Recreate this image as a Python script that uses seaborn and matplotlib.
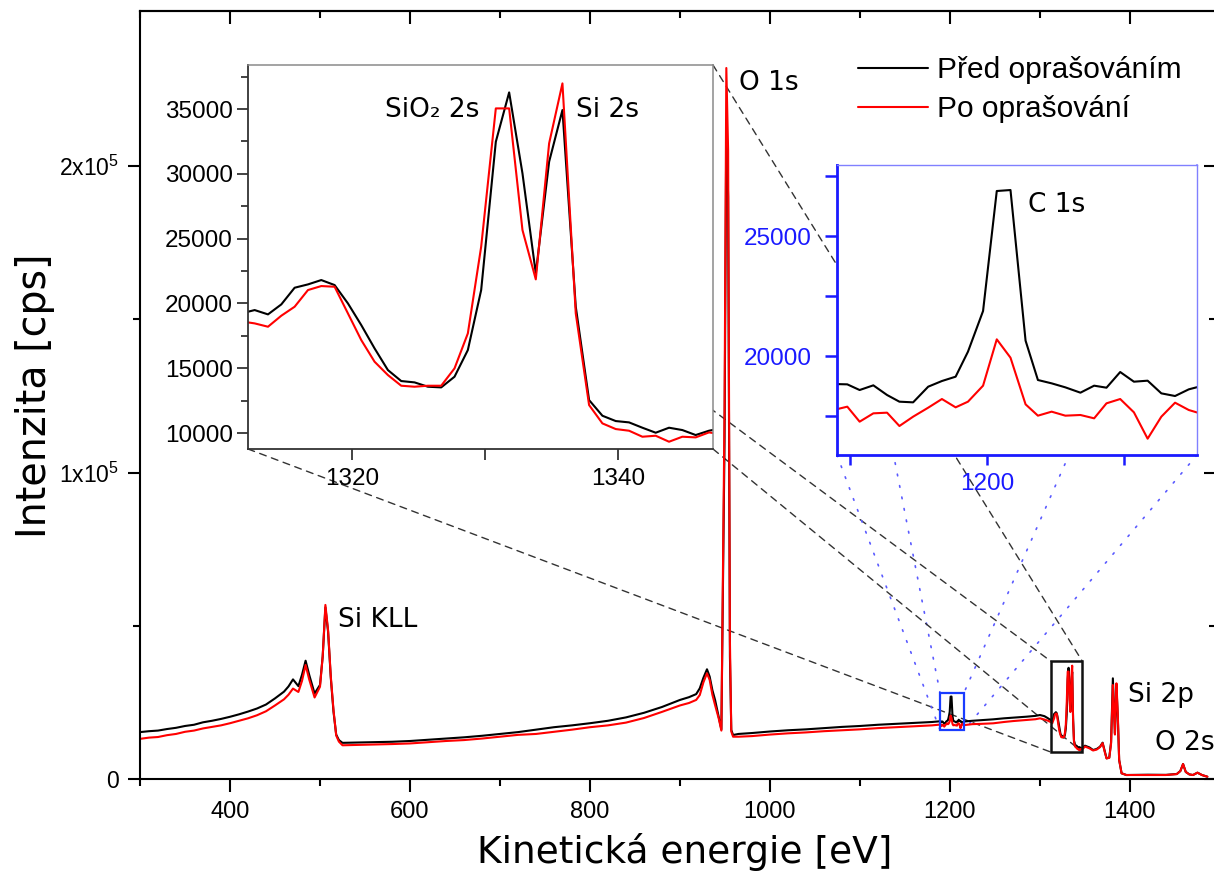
import matplotlib
matplotlib.use("Agg")
import matplotlib.pyplot as plt
import numpy as np
import pandas as pd
import seaborn as sns
from matplotlib.patches import Rectangle, ConnectionPatch
from matplotlib.ticker import FixedLocator

# ---------------- data ----------------
BLACK_LABEL = "Před oprašováním"
RED_LABEL = "Po oprašování"

# survey spectrum, segment by segment (kinetic energy [eV], intensity [cps])
e_kll = [300, 310, 320, 330, 340, 350, 360, 370, 380, 390, 400, 410, 420, 430, 440, 450, 460, 465,
         470, 476, 480, 484, 488, 494, 500, 503, 506, 509, 512, 515, 518, 521]
b_kll = [15300, 15600, 15800, 16300, 16700, 17300, 17700, 18500, 19000, 19600, 20300, 21100, 22000,
         23000, 24300, 26300, 28500, 30200, 32500, 30300, 34000, 38600, 34000, 27900, 30700, 40000,
         56000, 48000, 33000, 22000, 14500, 12700]
r_kll = [13100, 13500, 13700, 14300, 14700, 15400, 15800, 16500, 17000, 17500, 18200, 19000, 19800,
         20800, 22100, 24000, 26000, 27500, 29500, 28400, 32000, 37200, 32500, 26600, 30100, 40000,
         56800, 48500, 33500, 22500, 14200, 12200]

e_mid = [525, 540, 560, 580, 600, 620, 640, 660, 680, 700, 720, 740, 760, 780, 800, 820, 840, 860,
         880, 900, 910, 918, 922, 926, 930, 933, 936, 939, 943, 946]
b_mid = [11800, 11900, 12000, 12150, 12400, 12800, 13200, 13600, 14100, 14700, 15300, 16100, 16900,
         17500, 18200, 19000, 20100, 21600, 23500, 25800, 26700, 27700, 29600, 33000, 35800, 33400,
         29000, 25800, 20300, 16200]
r_mid = [11000, 11100, 11200, 11400, 11600, 12000, 12400, 12700, 13200, 13800, 14400, 14700, 15400,
         16100, 16900, 17500, 18400, 19900, 21900, 24000, 24800, 25800, 27400, 31500, 34500, 32300,
         27500, 24100, 19800, 15800]

e_o1s = [949.5, 951.5, 953.5, 955.5, 957, 959]
b_o1s = [110000, 215000, 190000, 40000, 16000, 14350]
r_o1s = [120000, 232000, 205000, 45000, 15500, 13800]

e_pre_c = [965, 980, 1000, 1020, 1040, 1060, 1080, 1100, 1120, 1140, 1160, 1180]
b_pre_c = [14700, 15000, 15500, 15900, 16200, 16600, 17000, 17300, 17700, 18000, 18300, 18600]
r_pre_c = [13800, 14000, 14500, 14900, 15200, 15600, 15900, 16200, 16600, 16900, 17200, 17500]

# C 1s detail
e_c1s = [1188.8, 1189.8, 1190.7, 1191.7, 1192.7, 1193.6, 1194.6, 1195.7, 1196.7, 1197.7, 1198.6,
         1199.7, 1200.7, 1201.7, 1202.8, 1203.7, 1204.7, 1205.7, 1206.8, 1207.8, 1208.7, 1209.7,
         1210.7, 1211.7, 1212.7, 1213.7, 1214.7, 1215.7]
b_c1s = [18833, 18819, 18583, 18778, 18375, 18097, 18069, 18722, 18958, 19139, 20181, 21875, 26876,
         26917, 20639, 19000, 18861, 18694, 18472, 18764, 18680, 19333, 18930, 18972, 18444, 18333,
         18611, 18760]
r_c1s = [17750, 17889, 17264, 17611, 17639, 17083, 17472, 17847, 18208, 17861, 18097, 18764, 20695,
         19931, 17986, 17514, 17681, 17514, 17542, 17403, 18028, 18208, 17653, 16555, 17472, 18055,
         17750, 17580]

e_pre_si = [1225, 1235, 1248, 1260, 1270, 1285, 1295, 1300, 1305, 1309]
b_pre_si = [19000, 19200, 19470, 19800, 20000, 20330, 20600, 20880, 20500, 19800]
r_pre_si = [17900, 18000, 18170, 18600, 18900, 19250, 19500, 19800, 19400, 19000]

# SiO2 2s / Si 2s detail
e_si2s = [1311.7, 1312.7, 1313.7, 1314.7, 1315.7, 1316.7, 1317.7, 1318.7, 1319.7, 1320.7, 1321.7,
          1322.7, 1323.7, 1324.7, 1325.7, 1326.7, 1327.7, 1328.7, 1329.7, 1330.8, 1331.8, 1332.8,
          1333.8, 1334.8, 1335.8, 1336.8, 1337.8, 1338.8, 1339.8, 1340.8, 1341.8, 1342.8, 1343.8,
          1344.8, 1345.8, 1346.8, 1347.8]
b_si2s = [19234, 19490, 19157, 19928, 21214, 21471, 21806, 21420, 20005, 18333, 16533, 14861, 14013,
          13910, 13576, 13524, 14347, 16404, 21034, 32479, 36286, 30036, 22320, 30936, 34923, 19748,
          12546, 11337, 10926, 10823, 10412, 10026, 10412, 10232, 9847, 10181, 10386]
r_si2s = [18616, 18462, 18205, 19054, 19748, 21034, 21343, 21291, 19233, 17176, 15504, 14475, 13652,
          13576, 13652, 13652, 14990, 17690, 24378, 35051, 35051, 25664, 21857, 32351, 36980, 19233,
          12161, 10746, 10309, 10180, 9717, 9794, 9331, 9717, 9666, 10051, 9897]

e_high = [1350, 1355, 1359, 1363, 1366.7, 1369.6, 1372, 1374, 1377, 1379, 1381, 1382, 1383.3, 1384,
          1385, 1386.5, 1388, 1390.7, 1396, 1420, 1440, 1452, 1456, 1459, 1462, 1466, 1470, 1475,
          1480, 1486]
b_high = [10870, 10300, 9460, 9800, 10540, 11850, 9000, 6750, 7000, 12000, 32850, 25000, 14900,
          22000, 30120, 20000, 6200, 1860, 1300, 1400, 1350, 1630, 2600, 4890, 2300, 1500, 1300,
          2060, 1300, 750]
r_high = [10600, 10000, 9300, 9600, 10400, 11700, 8800, 6700, 6900, 11500, 30670, 24000, 14500,
          23000, 31220, 21000, 6200, 1860, 1300, 1300, 1300, 1600, 2600, 4890, 2300, 1500, 1300,
          2060, 1300, 750]

# axis ranges / ticks
main_xlim = (300, 1495.6)
main_ylim = (0, 250600)
si_xlim = (1312.2, 1347.1)
si_ylim = (8770, 38400)
c_xlim = (1189.05, 1215.3)
c_ylim = (15875, 27960)


def long_df(e, b, r):
    return pd.DataFrame({
        "E": list(e) + list(e),
        "I": list(b) + list(r),
        "series": [BLACK_LABEL] * len(e) + [RED_LABEL] * len(e),
    })


e_all = e_kll + e_mid + e_o1s + e_pre_c + e_c1s + e_pre_si + e_si2s + e_high
b_all = b_kll + b_mid + b_o1s + b_pre_c + b_c1s + b_pre_si + b_si2s + b_high
r_all = r_kll + r_mid + r_o1s + r_pre_c + r_c1s + r_pre_si + r_si2s + r_high

df_main = long_df(e_all, b_all, r_all)
df_si = long_df(e_si2s, b_si2s, r_si2s)
df_c = long_df(e_c1s, b_c1s, r_c1s)
palette = {BLACK_LABEL: "#000000", RED_LABEL: "#ff0000"}

# ---------------- style ----------------
sns.set_style("ticks")
plt.rcParams["font.family"] = ["Liberation Sans", "DejaVu Sans"]
plt.rcParams["mathtext.fontset"] = "custom"
plt.rcParams["mathtext.rm"] = "Liberation Sans"
plt.rcParams["mathtext.default"] = "regular"
for key in ["text.color", "axes.labelcolor", "xtick.color", "ytick.color", "axes.edgecolor"]:
    plt.rcParams[key] = "black"

W, H = 1214, 871
fig = plt.figure(figsize=(W / 100, H / 100), dpi=100)
fig.patch.set_facecolor("white")


def fx(px):
    return px / W


def fy(py):
    return 1 - py / H


LAB = "DejaVu Sans"

# ---------------- main axes ----------------
ax = fig.add_axes([fx(140), fy(779), fx(1216) - fx(140), fy(11) - fy(779)])
sns.lineplot(data=df_main, x="E", y="I", hue="series", palette=palette, estimator=None,
             errorbar=None, linewidth=1.5, ax=ax, sort=False)
ax.set_xlim(*main_xlim)
ax.set_ylim(*main_ylim)
ax.set_xlabel("")
ax.set_ylabel("")
for s in ax.spines.values():
    s.set_linewidth(1.5)
    s.set_color("black")

ax.xaxis.set_major_locator(FixedLocator([400, 600, 800, 1000, 1200, 1400]))
ax.xaxis.set_minor_locator(FixedLocator([300, 500, 700, 900, 1100, 1300]))
ax.yaxis.set_major_locator(FixedLocator([0, 100000, 200000]))
ax.yaxis.set_minor_locator(FixedLocator([50000, 150000]))
ax.set_yticklabels(["0", "1x10$^{5}$", "2x10$^{5}$"])
ax.tick_params(axis="x", which="major", direction="out", length=9, width=1.5, labelsize=17, pad=7)
ax.tick_params(axis="x", which="minor", direction="out", length=5, width=1.5)
ax.tick_params(axis="y", which="major", direction="out", length=9, width=1.5, labelsize=16.5, pad=6)
ax.tick_params(axis="y", which="minor", direction="out", length=5, width=1.5)

secx = ax.secondary_xaxis("top")
secx.xaxis.set_major_locator(FixedLocator([400, 600, 800, 1000, 1200, 1400]))
secx.xaxis.set_minor_locator(FixedLocator([300, 500, 700, 900, 1100, 1300]))
secx.tick_params(which="major", direction="in", length=9, width=1.5, labeltop=False)
secx.tick_params(which="minor", direction="in", length=5, width=1.5)
secx.spines["top"].set_linewidth(1.5)
secy = ax.secondary_yaxis("right")
secy.yaxis.set_major_locator(FixedLocator([0, 100000, 200000]))
secy.yaxis.set_minor_locator(FixedLocator([50000, 150000]))
secy.tick_params(which="major", direction="in", length=9, width=1.5, labelright=False)
secy.tick_params(which="minor", direction="in", length=5, width=1.5)

# legend
handles, labels = ax.get_legend_handles_labels()
for h in handles:
    h.set_linewidth(1.5)
ax.legend(handles, labels, loc="upper left", bbox_to_anchor=(fx(858), fy(56)),
          bbox_transform=fig.transFigure, frameon=False, fontsize=21.5, handlelength=2.35,
          handletextpad=0.3, borderpad=0, borderaxespad=0, labelspacing=0.37)

# peak labels
ax.text(520, 51900, "Si KLL", fontsize=19, family=LAB, va="center", ha="left")
ax.text(965.6, 227000, "O 1s", fontsize=19, family=LAB, va="center", ha="left")
ax.text(1397.8, 27400, "Si 2p", fontsize=19, family=LAB, va="center", ha="left")
ax.text(1427.8, 11750, "O 2s", fontsize=19, family=LAB, va="center", ha="left")

# zoom boxes
ax.add_patch(Rectangle((si_xlim[0], si_ylim[0]), si_xlim[1] - si_xlim[0], si_ylim[1] - si_ylim[0],
                       fill=False, edgecolor="#111111", linewidth=1.8, zorder=5))
ax.add_patch(Rectangle((c_xlim[0], c_ylim[0]), c_xlim[1] - c_xlim[0], c_ylim[1] - c_ylim[0],
                       fill=False, edgecolor="#1a3cff", linewidth=1.6, zorder=5))

# axis titles
fig.text(fx(685), fy(852), "Kinetická energie [eV]", fontsize=27, family=LAB, ha="center", va="center")
fig.text(fx(35), fy(396), "Intenzita [cps]", fontsize=28.5, family=LAB, ha="center", va="center",
         rotation=90)

# ---------------- inset 1: Si 2s ----------------
ax1 = fig.add_axes([fx(248), fy(449), fx(713) - fx(248), fy(65) - fy(449)])
ax1.set_facecolor("white")
sns.lineplot(data=df_si, x="E", y="I", hue="series", palette=palette, estimator=None,
             errorbar=None, linewidth=1.5, ax=ax1, legend=False, sort=False)
ax1.set_xlim(*si_xlim)
ax1.set_ylim(*si_ylim)
ax1.set_xlabel("")
ax1.set_ylabel("")
ax1.xaxis.set_major_locator(FixedLocator([1320, 1340]))
ax1.xaxis.set_minor_locator(FixedLocator([1330]))
ax1.yaxis.set_major_locator(FixedLocator([10000, 15000, 20000, 25000, 30000, 35000]))
ax1.yaxis.set_minor_locator(FixedLocator([12500, 17500, 22500, 27500, 32500, 37500]))
ax1.tick_params(axis="both", which="major", direction="out", length=8, width=1.2, labelsize=17.5,
                color="#222222")
ax1.tick_params(axis="y", which="major", pad=3)
ax1.tick_params(axis="x", which="major", pad=6)
ax1.tick_params(axis="both", which="minor", direction="out", length=5, width=1.2, color="#222222")
ax1.tick_params(axis="x", which="minor", length=8)
for side in ["left", "bottom"]:
    ax1.spines[side].set_color("#333333")
    ax1.spines[side].set_linewidth(1.3)
for side in ["top", "right"]:
    ax1.spines[side].set_color("#8a8a8a")
    ax1.spines[side].set_linewidth(1.1)
ax1.text(1322.5, 34920, "SiO₂ 2s", fontsize=19, family=LAB, va="center", ha="left")
ax1.text(1336.8, 34920, "Si 2s", fontsize=19, family=LAB, va="center", ha="left")

# ---------------- inset 2: C 1s ----------------
BLUE = "#1a1aff"
ax2 = fig.add_axes([fx(837), fy(455), fx(1197) - fx(837), fy(165) - fy(455)])
ax2.set_facecolor("white")
sns.lineplot(data=df_c, x="E", y="I", hue="series", palette=palette, estimator=None,
             errorbar=None, linewidth=1.5, ax=ax2, legend=False, sort=False)
ax2.set_xlim(*c_xlim)
ax2.set_ylim(*c_ylim)
ax2.set_xlabel("")
ax2.set_ylabel("")
ax2.xaxis.set_major_locator(FixedLocator([1190, 1200, 1210]))
ax2.set_xticklabels(["", "1200", ""])
ax2.yaxis.set_major_locator(FixedLocator([20000, 25000]))
ax2.yaxis.set_minor_locator(FixedLocator([17500, 22500, 27500]))
ax2.tick_params(axis="both", which="major", direction="out", length=9, width=1.8, labelsize=17.5,
                color=BLUE, labelcolor=BLUE)
ax2.tick_params(axis="y", which="minor", direction="out", length=9, width=1.8, color=BLUE)
ax2.tick_params(axis="y", which="major", pad=9)
ax2.tick_params(axis="x", which="major", length=7, pad=6)
for side in ["left", "bottom"]:
    ax2.spines[side].set_color(BLUE)
    ax2.spines[side].set_linewidth(2.0)
for side in ["top", "right"]:
    ax2.spines[side].set_color("#8080ff")
    ax2.spines[side].set_linewidth(1.0)
ax2.text(1203.0, 26290, "C 1s", fontsize=19, family=LAB, va="center", ha="left")

# ---------------- connector lines ----------------
corners = [((0, 1), 0, 1), ((1, 1), 1, 1), ((0, 0), 0, 0), ((1, 0), 1, 0)]
for (ia, ix, iy) in corners:
    con = ConnectionPatch(xyA=ia, coordsA=ax1.transAxes,
                          xyB=(si_xlim[ix], si_ylim[iy]), coordsB=ax.transData,
                          arrowstyle="-", linestyle=(0, (5, 4)), linewidth=1.0, color="#333333")
    ax.add_artist(con)
    con2 = ConnectionPatch(xyA=ia, coordsA=ax2.transAxes,
                           xyB=(c_xlim[ix], c_ylim[iy]), coordsB=ax.transData,
                           arrowstyle="-", linestyle=(0, (1, 6)), linewidth=1.2, color="#5a5aff")
    ax.add_artist(con2)

fig.savefig("out.png", dpi=100, facecolor="white")
